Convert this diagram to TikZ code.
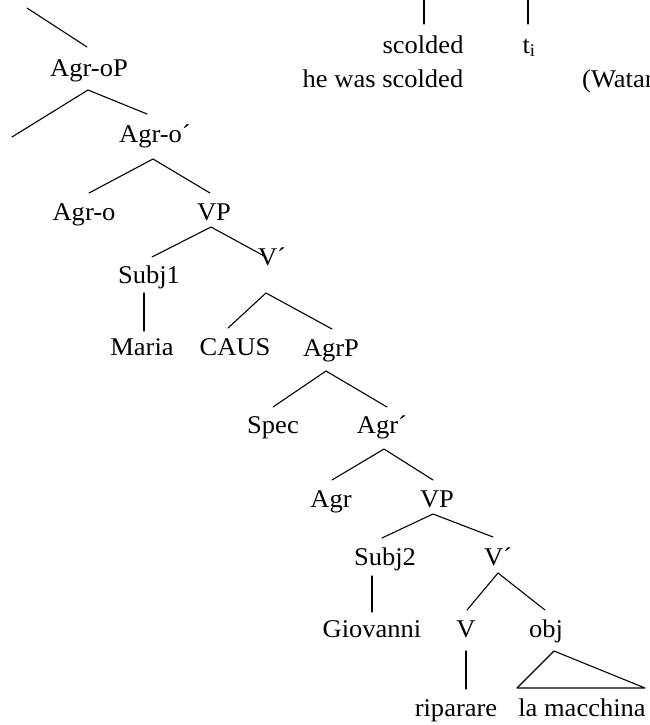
\documentclass[tikz,border=0pt]{standalone}
\usepackage{fontspec}
\setmainfont{Liberation Serif}[FakeStretch=1.04]
\usetikzlibrary{calc}
\begin{document}
\begin{tikzpicture}[x=1pt,y=-1pt,
  lab/.style={anchor=base, inner sep=0pt, font=\fontsize{25.5}{30}\selectfont},
  edge/.style={line width=1.1pt, line cap=round}]
\useasboundingbox (0,0) rectangle (650,725);
\clip (0,0) rectangle (650,725);
% top part
\node[lab] (scolded) at (423,53) {scolded};
\node[lab] (ti) at (529,53) {t$_{\mathrm{i}}$};
\node[lab] (hewas) at (383,88) {he was scolded};
\node[lab, anchor=base west] (watan) at (582,88) {(Watan};
\coordinate (top1) at (424,-5);
\coordinate (top2) at (528,-5);
\coordinate (c0) at (27,8);
\coordinate (cL1) at (12,137);
% tree nodes
\node[lab] (agroP) at (89,76) {Agr-oP};
\node[lab] (agrobar) at (155,142) {Agr-o´};
\node[lab] (agro) at (84,220) {Agr-o};
\node[lab] (vp1) at (214,220) {VP};
\node[lab] (subj1) at (149,283) {Subj1};
\node[lab] (vbar1) at (272,265) {V´};
\node[lab] (maria) at (142,355) {Maria};
\node[lab] (caus) at (235,355) {CAUS};
\node[lab] (agrP) at (331,356) {AgrP};
\node[lab] (spec) at (273,433) {Spec};
\node[lab] (agrbar) at (382,433) {Agr´};
\node[lab] (agr) at (331,507) {Agr};
\node[lab] (vp2) at (437,507) {VP};
\node[lab] (subj2) at (385,565) {Subj2};
\node[lab] (vbar2) at (498,565) {V´};
\node[lab] (giovanni) at (372,637) {Giovanni};
\node[lab] (v) at (466,637) {V};
\node[lab] (obj) at (546,637) {obj};
\node[lab] (riparare) at (456,716) {riparare};
\node[lab] (lamacchina) at (582,716) {la macchina};
% connectors
\draw[edge] (top1) -- ($(scolded.base)+(1,-29)$);
\draw[edge] (top2) -- ($(ti.base)+(-1,-29)$);
\draw[edge] (c0) -- ($(agroP.base)+(-2,-29)$);
\draw[edge] (cL1) -- ($(agroP.base)+(-1,14)$) -- ($(agrobar.base)+(-8,-28)$);
\draw[edge] ($(agro.base)+(5,-27)$) -- ($(agrobar.base)+(-2,17)$) -- ($(vp1.base)+(-4,-27)$);
\draw[edge] ($(subj1.base)+(3,-26)$) -- ($(vp1.base)+(-3,7)$) -- ($(vbar1.base)+(-6,-8)$);
\draw[edge] ($(subj1.base)+(-5,10)$) -- ($(maria.base)+(2,-24)$);
\draw[edge] ($(caus.base)+(-7,-27)$) -- ($(vbar1.base)+(-6,28)$) -- ($(agrP.base)+(1,-27)$);
\draw[edge] ($(spec.base)+(0,-26)$) -- ($(agrP.base)+(-5,15)$) -- ($(agrbar.base)+(5,-26)$);
\draw[edge] ($(agr.base)+(1,-27)$) -- ($(agrbar.base)+(2,16)$) -- ($(vp2.base)+(-4,-27)$);
\draw[edge] ($(subj2.base)+(-3,-27)$) -- ($(vp2.base)+(-4,7)$) -- ($(vbar2.base)+(-5,-28)$);
\draw[edge] ($(subj2.base)+(-13,11)$) -- ($(giovanni.base)+(0,-25)$);
\draw[edge] ($(v.base)+(1,-27)$) -- ($(vbar2.base)+(0,8)$) -- ($(obj.base)+(-1,-27)$);
\draw[edge] ($(v.base)+(0,14)$) -- ($(riparare.base)+(10,-27)$);
\draw[edge, line join=round] ($(obj.base)+(8,14)$) -- ($(lamacchina.base)+(-65,-28)$) -- ($(lamacchina.base)+(63,-28)$) -- cycle;
\end{tikzpicture}
\end{document}
